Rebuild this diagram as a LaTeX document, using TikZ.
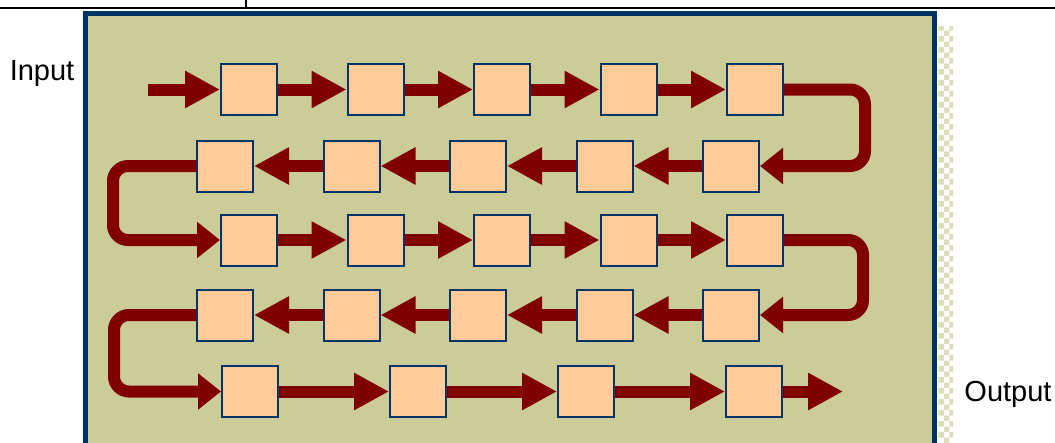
\documentclass[tikz,border=0pt]{standalone}
\usepackage{fontspec}
\setmainfont{Liberation Sans}
\usetikzlibrary{arrows.meta,patterns}
\definecolor{panel}{HTML}{CCCC99}
\definecolor{frame}{HTML}{003366}
\definecolor{cellfill}{HTML}{FFCC99}
\definecolor{flowred}{HTML}{800000}
\definecolor{shade}{HTML}{DDDDBB}
\begin{document}
\begin{tikzpicture}[x=1pt,y=-1pt,node distance=126.5pt]
\tikzstyle{stage}=[draw=frame,fill=cellfill,line width=2pt,minimum width=56pt,minimum height=51pt,inner sep=0pt]
\tikzstyle{flow}=[draw=flowred,line width=12pt,-{Triangle[length=35pt,width=35pt]}]
\tikzstyle{turn}=[flow,rounded corners=15pt,-{Triangle[length=23pt,width=35pt]}]
\tikzstyle{label}=[anchor=base,font=\fontsize{29}{34}\selectfont]
\useasboundingbox (0,0) rectangle (1055,442);
\clip (0,0) rectangle (1055,442);
\draw[line width=2pt] (0,7.5) -- (1055,7.5);
\draw[line width=2pt] (246,0) -- (246,7.5);
\fill[pattern=checkerboard,pattern color=shade] (938,26) rectangle (953,460);
\draw[draw=frame,fill=panel,line width=5pt] (85.5,13) rectangle (934.5,470);
\node[label] (inlabel) at (42,80) {Input};
\node[label] (outlabel) at (1008,401) {Output};
\node[stage] (r1a) at (249,89.5) {};
\node[stage] (r1b) [right of=r1a] {};
\node[stage] (r1c) [right of=r1b] {};
\node[stage] (r1d) [right of=r1c] {};
\node[stage] (r1e) [right of=r1d] {};
\node[stage] (r2e) at (731,166) {};
\node[stage] (r2d) [left of=r2e] {};
\node[stage] (r2c) [left of=r2d] {};
\node[stage] (r2b) [left of=r2c] {};
\node[stage] (r2a) [left of=r2b] {};
\node[stage] (r3a) at (249,240) {};
\node[stage] (r3b) [right of=r3a] {};
\node[stage] (r3c) [right of=r3b] {};
\node[stage] (r3d) [right of=r3c] {};
\node[stage] (r3e) [right of=r3d] {};
\node[stage] (r4e) at (731,315) {};
\node[stage] (r4d) [left of=r4e] {};
\node[stage] (r4c) [left of=r4d] {};
\node[stage] (r4b) [left of=r4c] {};
\node[stage] (r4a) [left of=r4b] {};
\node[stage] (r5a) at (250,391.5) {};
\node[stage] (r5b) [right of=r5a,node distance=168pt] {};
\node[stage] (r5c) [right of=r5b,node distance=168pt] {};
\node[stage] (r5d) [right of=r5c,node distance=168pt] {};
\coordinate (in) at (148,89.5);
\coordinate (out) at (843,391.5);
\draw[flow] (in) -- (r1a);
\foreach \a/\b in {r1a/r1b,r1b/r1c,r1c/r1d,r1d/r1e,r2e/r2d,r2d/r2c,r2c/r2b,r2b/r2a,
  r3a/r3b,r3b/r3c,r3c/r3d,r3d/r3e,r4e/r4d,r4d/r4c,r4c/r4b,r4b/r4a,r5a/r5b,r5b/r5c,r5c/r5d}
  \draw[flow] (\a) -- (\b);
\draw[flow] (r5d) -- (out);
\draw[turn] (r1e.east) -- ++(81,0) |- (r2e.east);
\draw[turn] (r2a.west) -- ++(-83,0) |- (r3a.west);
\draw[turn] (r3e.east) -- ++(79,0) |- (r4e.east);
\draw[turn] (r4a.west) -- ++(-82,0) |- (r5a.west);
\end{tikzpicture}
\end{document}
